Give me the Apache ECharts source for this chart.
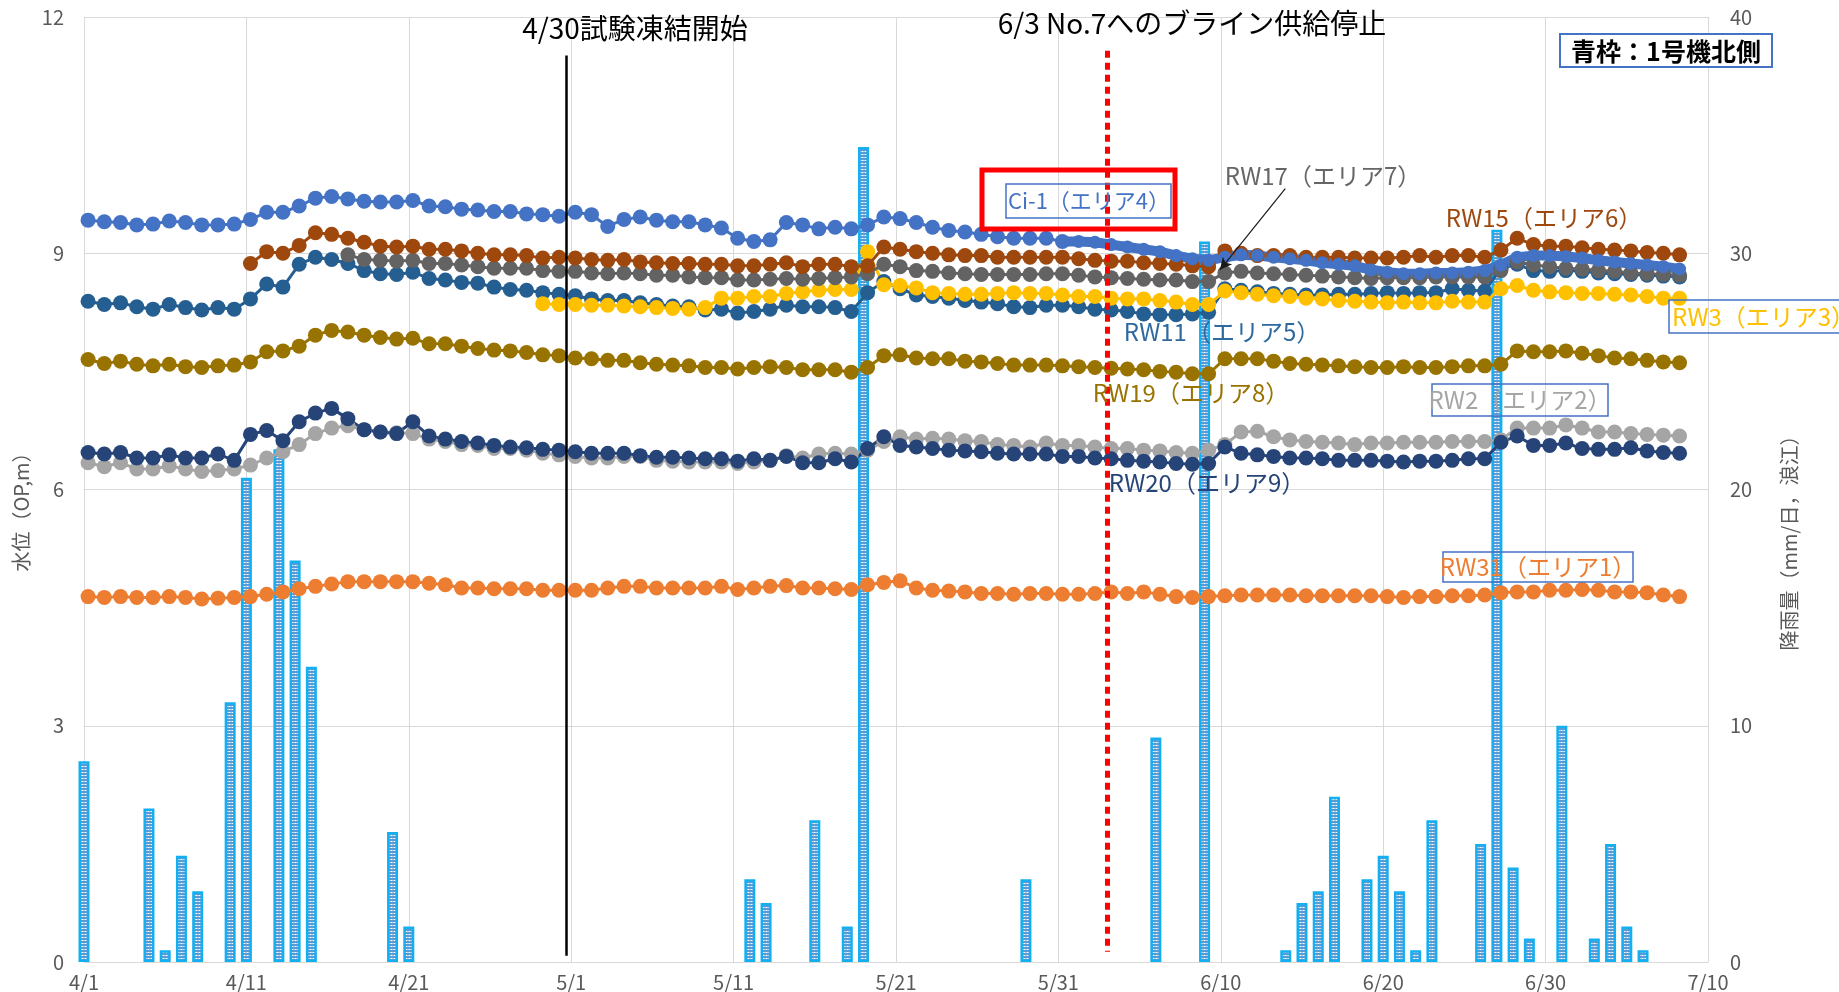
<!DOCTYPE html>
<html><head><meta charset="utf-8">
<script src="https://cdn.jsdelivr.net/npm/echarts@6/dist/echarts.min.js"></script>
<style>html,body{margin:0;padding:0;background:#fff;}#c{width:1839px;height:992px;}</style>
</head><body><div id="c"></div>
<script>
// ---- tick labels (x axis = days from 4/1, every 10 days) ----
const xTickLabels = ['4/1','4/11','4/21','5/1','5/11','5/21','5/31','6/10','6/20','6/30','7/10'];
// daily readings taken early in the day (fraction of a day after midnight)
const READ_T = 0.25;

// ---- water level (OP,m), index = day from 4/1 ----
const ci1 = [9.42,9.40,9.39,9.36,9.37,9.41,9.39,9.36,9.36,9.37, 9.43,9.52,9.52,9.60,9.70,9.72,9.69,9.66,9.65,9.65, 9.67,9.60,9.59,9.56,9.55,9.53,9.53,9.50,9.49,9.47, 9.52,9.49,9.34,9.43,9.46,9.42,9.40,9.40,9.36,9.32, 9.19,9.15,9.17,9.39,9.36,9.31,9.33,9.31,9.36,9.46, 9.44,9.39,9.33,9.29,9.27,9.24,9.21,9.19,9.19,9.19, 9.15,9.15,9.14,9.11,9.08,9.05,9.02,8.97,8.93,8.91, 8.95,8.98,8.97,8.95,8.93,8.91,8.88,8.86,8.84,8.79, 8.76,8.74,8.74,8.75,8.75,8.76,8.78,8.85,8.95,8.97, 8.97,8.96,8.94,8.91,8.89,8.87,8.85,8.83,8.80];
const rw15 = [null,null,null,null,null,null,null,null,null,null, 8.87,9.02,9.00,9.10,9.26,9.24,9.19,9.14,9.09,9.08, 9.09,9.05,9.05,9.03,9.00,8.98,8.98,8.97,8.94,8.95, 8.94,8.92,8.91,8.92,8.89,8.88,8.87,8.87,8.86,8.86, 8.84,8.84,8.86,8.88,8.83,8.86,8.86,8.83,8.84,9.08, 9.05,9.02,9.00,8.98,8.97,8.97,8.95,8.95,8.95,8.95, 8.95,8.93,8.91,8.90,8.90,8.88,8.87,8.86,8.84,8.83, 9.03,9.00,8.97,8.97,8.97,8.95,8.95,8.95,8.94,8.94, 8.94,8.95,8.97,8.95,8.97,8.97,8.95,9.04,9.19,9.11, 9.09,9.09,9.07,9.05,9.04,9.03,9.01,9.00,8.98];
const rw17 = [null,null,null,null,null,null,null,null,null,null, null,null,null,null,null,null,8.98,8.92,8.91,8.90, 8.91,8.87,8.87,8.85,8.83,8.81,8.81,8.81,8.78,8.77, 8.77,8.75,8.74,8.75,8.74,8.72,8.72,8.70,8.69,8.69, 8.66,8.66,8.67,8.68,8.67,8.68,8.69,8.70,8.74,8.86, 8.83,8.78,8.77,8.75,8.74,8.73,8.73,8.73,8.73,8.74, 8.74,8.72,8.70,8.69,8.68,8.67,8.66,8.66,8.64,8.64, 8.75,8.77,8.75,8.74,8.73,8.72,8.71,8.70,8.69,8.68, 8.69,8.69,8.69,8.70,8.70,8.70,8.70,8.78,8.89,8.85, 8.83,8.81,8.80,8.78,8.77,8.75,8.74,8.73,8.72];
const rw11 = [8.39,8.35,8.37,8.32,8.29,8.35,8.31,8.28,8.31,8.29, 8.42,8.61,8.57,8.86,8.95,8.92,8.87,8.78,8.74,8.73, 8.76,8.68,8.66,8.63,8.62,8.57,8.54,8.53,8.50,8.48, 8.46,8.42,8.40,8.40,8.37,8.35,8.33,8.32,8.28,8.29, 8.24,8.26,8.29,8.34,8.32,8.32,8.31,8.26,8.50,8.64, 8.55,8.47,8.45,8.43,8.40,8.38,8.36,8.32,8.31,8.34, 8.34,8.32,8.29,8.28,8.26,8.23,8.22,8.22,8.23,8.25, 8.55,8.53,8.51,8.49,8.48,8.47,8.47,8.48,8.48,8.49, 8.50,8.49,8.50,8.50,8.55,8.53,8.52,8.81,8.86,8.78, 8.77,8.78,8.77,8.75,8.74,8.73,8.72,8.71,8.70];
const rw3 = [null,null,null,null,null,null,null,null,null,null, null,null,null,null,null,null,null,null,null,null, null,null,null,null,null,null,null,null,8.36,8.35, 8.35,8.34,8.34,8.33,8.32,8.31,8.30,8.29,8.31,8.43, 8.43,8.45,8.45,8.49,8.51,8.53,8.54,8.54,9.02,8.60, 8.59,8.56,8.50,8.49,8.48,8.48,8.49,8.50,8.49,8.49, 8.47,8.45,8.45,8.43,8.42,8.42,8.40,8.38,8.35,8.35, 8.52,8.50,8.48,8.46,8.45,8.43,8.42,8.40,8.39,8.38, 8.37,8.38,8.37,8.37,8.39,8.38,8.38,8.55,8.59,8.53, 8.51,8.50,8.49,8.49,8.48,8.47,8.45,8.43,8.43];
const rw19 = [7.65,7.60,7.63,7.59,7.57,7.59,7.56,7.55,7.57,7.58, 7.62,7.75,7.76,7.82,7.96,8.02,8.00,7.96,7.93,7.91, 7.92,7.85,7.85,7.82,7.79,7.77,7.76,7.74,7.71,7.70, 7.67,7.66,7.64,7.64,7.61,7.59,7.58,7.57,7.55,7.55, 7.53,7.55,7.56,7.55,7.52,7.52,7.52,7.49,7.55,7.70, 7.71,7.67,7.66,7.66,7.63,7.62,7.60,7.58,7.58,7.58, 7.57,7.56,7.55,7.54,7.53,7.52,7.50,7.49,7.47,7.47, 7.66,7.66,7.66,7.63,7.60,7.59,7.58,7.57,7.56,7.55, 7.55,7.56,7.55,7.55,7.56,7.57,7.57,7.59,7.76,7.75, 7.75,7.76,7.73,7.70,7.67,7.66,7.64,7.62,7.61];
const rw20 = [6.47,6.45,6.47,6.40,6.40,6.44,6.40,6.40,6.45,6.37, 6.70,6.75,6.62,6.86,6.97,7.03,6.90,6.76,6.73,6.71, 6.86,6.68,6.64,6.61,6.59,6.56,6.54,6.53,6.51,6.50, 6.48,6.46,6.46,6.46,6.43,6.41,6.41,6.40,6.39,6.39, 6.36,6.39,6.37,6.42,6.34,6.34,6.39,6.35,6.52,6.67, 6.56,6.54,6.52,6.50,6.49,6.48,6.46,6.45,6.45,6.45, 6.42,6.42,6.40,6.39,6.37,6.36,6.35,6.33,6.32,6.33, 6.54,6.46,6.44,6.42,6.40,6.40,6.39,6.37,6.37,6.37, 6.36,6.35,6.36,6.36,6.37,6.39,6.39,6.60,6.68,6.56, 6.56,6.59,6.52,6.51,6.51,6.53,6.49,6.47,6.46];
const rw2 = [6.34,6.29,6.34,6.26,6.26,6.30,6.26,6.23,6.24,6.26, 6.31,6.40,6.48,6.57,6.71,6.78,6.81,6.76,6.73,6.72, 6.71,6.64,6.61,6.57,6.56,6.52,6.52,6.50,6.46,6.44, 6.42,6.40,6.40,6.42,6.42,6.37,6.36,6.35,6.35,6.35, 6.33,6.35,6.37,6.43,6.40,6.45,6.46,6.45,6.50,6.61, 6.67,6.64,6.65,6.64,6.62,6.61,6.57,6.56,6.54,6.59, 6.56,6.56,6.54,6.52,6.52,6.50,6.49,6.47,6.46,6.50, 6.57,6.73,6.74,6.67,6.63,6.61,6.60,6.59,6.57,6.59, 6.59,6.60,6.60,6.60,6.61,6.61,6.61,6.63,6.78,6.78, 6.78,6.82,6.78,6.73,6.73,6.71,6.70,6.69,6.68];
const rw31 = [4.64,4.63,4.64,4.63,4.63,4.64,4.63,4.61,4.62,4.63, 4.64,4.67,4.70,4.74,4.77,4.80,4.83,4.83,4.83,4.83, 4.83,4.81,4.79,4.75,4.75,4.74,4.74,4.74,4.72,4.72, 4.72,4.72,4.75,4.77,4.77,4.75,4.75,4.75,4.75,4.77, 4.73,4.75,4.77,4.78,4.75,4.75,4.74,4.73,4.79,4.82, 4.84,4.75,4.72,4.71,4.70,4.68,4.68,4.67,4.68,4.68, 4.67,4.67,4.68,4.70,4.68,4.70,4.67,4.64,4.63,4.64, 4.65,4.66,4.66,4.66,4.66,4.65,4.65,4.65,4.65,4.65, 4.64,4.63,4.64,4.64,4.65,4.65,4.66,4.69,4.70,4.70, 4.72,4.72,4.73,4.72,4.70,4.70,4.69,4.66,4.64];

// ---- daily rainfall (mm/day, Namie) ----
const rainDays = [0,4,5,6,7,9,10,12,13,14,19,20,41,42,45,47,48,58,66,69,74,75,76,77,79,80,81,82,83,86,87,88,89,91,93,94,95,96];
const rainMm   = [8.5,6.5,0.5,4.5,3.0,11.0,20.5,21.7,17.0,12.5,5.5,1.5,3.5,2.5,6.0,1.5,34.5,3.5,9.5,30.5,0.5,2.5,3.0,7.0,3.5,4.5,3.0,0.5,6.0,5.0,31.0,4.0,1.0,10.0,1.0,5.0,1.5,0.5];

// ---- event markers (day from 4/1) ----
const freezeStartDay = 29.7;   // 4/30
const brineStopDay = 63;       // 6/3

const FONT = '"Noto Sans CJK JP","Noto Sans",sans-serif';
function pts(arr, from, to) {
  const out = [];
  for (let i = from; i <= to && i < arr.length; i++) if (arr[i] != null) out.push([i + READ_T, arr[i]]);
  return out;
}
function line(name, color, arr, extra) {
  return Object.assign({
    name, type: 'line', data: pts(arr, 0, arr.length - 1),
    symbol: 'circle', symbolSize: 15, showAllSymbol: true,
    itemStyle: { color }, lineStyle: { color, width: 3 },
    emphasis: { disabled: true }, silent: true
  }, extra || {});
}
// dotted fill pattern for the rain bars
const pat = document.createElement('canvas');
pat.width = 3; pat.height = 3;
(function () {
  const g = pat.getContext('2d');
  g.fillStyle = '#5B9BD5'; g.fillRect(0, 0, 3, 3);
  g.fillStyle = '#FFFFFF'; g.fillRect(1, 1, 1, 1);
  g.fillStyle = '#B4D2EE'; g.fillRect(0, 1, 1, 1); g.fillRect(2, 1, 1, 1);
})();

const chart = echarts.init(document.getElementById('c'), null, { renderer: 'canvas' });
const option = {
  animation: false,
  backgroundColor: '#fff',
  grid: { left: 84, right: 131, top: 17, bottom: 29 },
  xAxis: {
    type: 'value', min: 0, max: 100, interval: 10,
    axisLine: { show: true, lineStyle: { color: '#D9D9D9', width: 1 } },
    axisTick: { show: false },
    splitLine: { show: true, lineStyle: { color: '#D9D9D9', width: 1 } },
    axisLabel: { formatter: v => xTickLabels[Math.round(v / 10)], color: '#595959', fontSize: 20, fontFamily: FONT, margin: 10 }
  },
  yAxis: [
    { type: 'value', min: 0, max: 12, interval: 3,
      axisLine: { show: false }, axisTick: { show: false },
      splitLine: { lineStyle: { color: '#D9D9D9', width: 1 } },
      axisLabel: { color: '#595959', fontSize: 20, fontFamily: FONT, margin: 20 } },
    { type: 'value', min: 0, max: 40, interval: 10,
      axisLine: { show: false }, axisTick: { show: false }, splitLine: { show: false },
      axisLabel: { color: '#595959', fontSize: 20, fontFamily: FONT, margin: 22 } }
  ],
  series: [
    { name: '降雨量', type: 'bar', yAxisIndex: 1, barWidth: 11,
      data: rainDays.map((d, i) => [d, rainMm[i]]),
      itemStyle: { color: { image: pat, repeat: 'repeat' }, borderColor: '#12B0F0', borderWidth: 2.5 },
      emphasis: { disabled: true }, silent: true, z: 1 },
    line('RW2（エリア2）', '#A5A5A5', rw2),
    line('RW20（エリア9）', '#264478', rw20),
    line('RW31（エリア1）', '#ED7D31', rw31),
    line('RW19（エリア8）', '#997300', rw19),
    line('RW11（エリア5）', '#255E91', rw11),
    line('RW3（エリア3）', '#FFC000', rw3),
    line('RW17（エリア7）', '#636363', rw17, {
      markLine: { silent: true, animation: false, symbolSize: [9, 12],
        label: { show: false }, lineStyle: { color: '#1a1a1a', width: 1.2, type: 'solid' },
        data: [[{ coord: [73.97, 9.82], symbol: 'none' }, { coord: [69.95, 8.79], symbol: 'arrow' }]] }
    }),
    line('RW15（エリア6）', '#9E480E', rw15),
    Object.assign(line('Ci-1（エリア4）', '#4472C4', ci1), { data: pts(ci1, 0, 60),
      markLine: { silent: true, animation: false, symbol: 'none', label: { show: false },
        data: [
          [{ coord: [freezeStartDay, 11.51], lineStyle: { color: '#000', width: 2.5, type: 'solid' } }, { coord: [freezeStartDay, 0.08] }],
          [{ coord: [brineStopDay, 11.57], lineStyle: { color: '#FF0000', width: 5, type: [7, 5] } }, { coord: [brineStopDay, 0.13] }]
        ] } }),
    Object.assign(line('Ci-1（エリア4）', '#4472C4', ci1), { data: pts(ci1, 60, 98), symbolSize: 13, lineStyle: { color: '#4472C4', width: 10 } })
  ],
  graphic: [
    { type: 'text', z: 100, style: { text: '4/30試験凍結開始', x: 635, y: 28, align: 'center', verticalAlign: 'middle', fill: '#000', font: '28px ' + FONT } },
    { type: 'text', z: 100, style: { text: '6/3 No.7へのブライン供給停止', x: 1192, y: 23, align: 'center', verticalAlign: 'middle', fill: '#000', font: '28px ' + FONT } },
    { type: 'rect', z: 100, shape: { x: 1560, y: 34, width: 212, height: 33 }, style: { fill: '#fff', stroke: '#4472C4', lineWidth: 2 } },
    { type: 'text', z: 101, style: { text: '青枠：1号機北側', x: 1666, y: 51, align: 'center', verticalAlign: 'middle', fill: '#000', font: 'bold 25px ' + FONT } },
    { type: 'rect', z: 100, shape: { x: 982, y: 170, width: 193, height: 59 }, style: { fill: 'none', stroke: '#FF0000', lineWidth: 5 } },
    { type: 'rect', z: 100, shape: { x: 1006, y: 184, width: 165, height: 34 }, style: { fill: 'none', stroke: '#4472C4', lineWidth: 1.5 } },
    { type: 'text', z: 101, style: { text: 'Ci-1（エリア4）', x: 1089, y: 201, align: 'center', verticalAlign: 'middle', fill: '#4472C4', font: '22px ' + FONT } },
    { type: 'text', z: 101, style: { text: 'RW17（エリア7）', x: 1323, y: 176, align: 'center', verticalAlign: 'middle', fill: '#666666', font: '24px ' + FONT } },
    { type: 'text', z: 101, style: { text: 'RW15（エリア6）', x: 1544, y: 218, align: 'center', verticalAlign: 'middle', fill: '#9E480E', font: '24px ' + FONT } },
    { type: 'text', z: 101, style: { text: 'RW11（エリア5）', x: 1222, y: 332, align: 'center', verticalAlign: 'middle', fill: '#2E6AA0', font: '24px ' + FONT } },
    { type: 'rect', z: 100, shape: { x: 1669, y: 300, width: 185, height: 33 }, style: { fill: 'none', stroke: '#4472C4', lineWidth: 1.5 } },
    { type: 'text', z: 101, style: { text: 'RW3（エリア3）', x: 1672, y: 317, align: 'left', verticalAlign: 'middle', fill: '#FFC000', font: '24px ' + FONT } },
    { type: 'text', z: 101, style: { text: 'RW19（エリア8）', x: 1191, y: 393, align: 'center', verticalAlign: 'middle', fill: '#997300', font: '24px ' + FONT } },
    { type: 'rect', z: 100, shape: { x: 1432, y: 384, width: 176, height: 32 }, style: { fill: 'none', stroke: '#4472C4', lineWidth: 1.5 } },
    { type: 'text', z: 101, style: { text: 'RW2（エリア2）', x: 1520, y: 400, align: 'center', verticalAlign: 'middle', fill: '#A5A5A5', font: '24px ' + FONT } },
    { type: 'text', z: 101, style: { text: 'RW20（エリア9）', x: 1207, y: 483, align: 'center', verticalAlign: 'middle', fill: '#264478', font: '24px ' + FONT } },
    { type: 'rect', z: 100, shape: { x: 1443, y: 552, width: 190, height: 30 }, style: { fill: 'none', stroke: '#4472C4', lineWidth: 1.5 } },
    { type: 'text', z: 101, style: { text: 'RW31（エリア1）', x: 1538, y: 567, align: 'center', verticalAlign: 'middle', fill: '#ED7D31', font: '24px ' + FONT } },
    { type: 'text', z: 101, rotation: Math.PI / 2, x: 21, y: 507, style: { text: '水位（OP,m）', x: 0, y: 0, align: 'center', verticalAlign: 'middle', fill: '#595959', font: '20px ' + FONT } },
    { type: 'text', z: 101, rotation: Math.PI / 2, x: 1789, y: 538, style: { text: '降雨量（mm/日，浪江）', x: 0, y: 0, align: 'center', verticalAlign: 'middle', fill: '#595959', font: '20px ' + FONT } }
  ]
};
chart.setOption(option);
</script>
</body></html>
